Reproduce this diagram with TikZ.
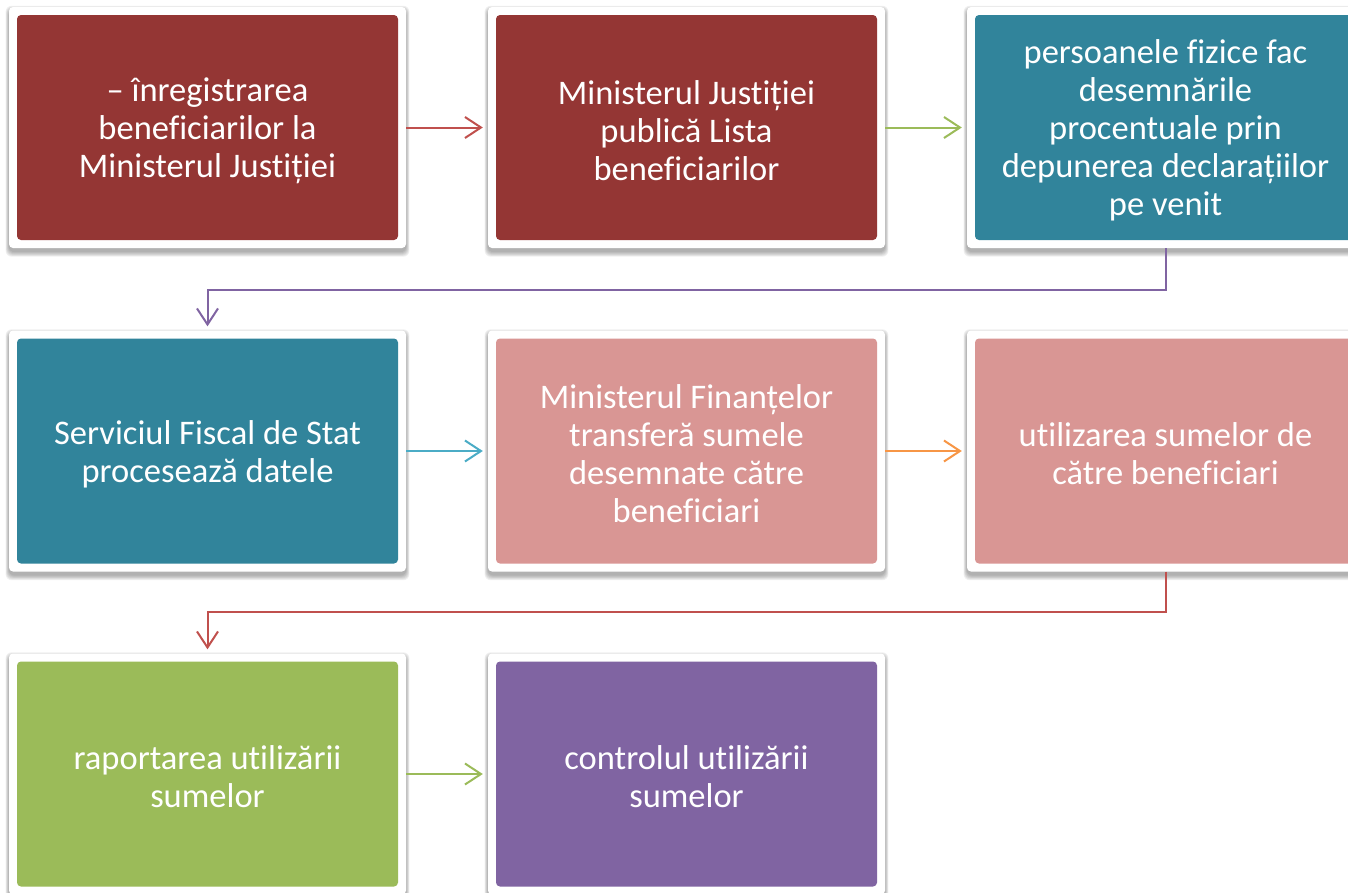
\documentclass[tikz,border=0pt]{standalone}
\usepackage{fontspec}
\setmainfont[Ligatures=NoCommon]{Carlito}
\usetikzlibrary{arrows.meta,backgrounds}
\definecolor{cDred}{HTML}{943634}
\definecolor{cTeal}{HTML}{31849B}
\definecolor{cPink}{HTML}{D99694}
\definecolor{cGreen}{HTML}{9BBB59}
\definecolor{cPurple}{HTML}{8064A2}
\definecolor{aRed}{HTML}{C0504D}
\definecolor{aBlue}{HTML}{4BACC6}
\definecolor{aOrange}{HTML}{F79646}
\tikzset{
  stepbox/.style={rectangle, rounded corners=4pt, fill=white, minimum width=397pt, minimum height=241pt,
    inner sep=0pt,
    path picture={\fill[#1] ([shift={(8pt,-8pt)}]path picture bounding box.north west) rectangle ([shift={(-8pt,8pt)}]path picture bounding box.south east);}},
  boxtext/.style={align=center, text=white, inner sep=0pt, font=\fontsize{34.5}{38}\selectfont},
  conn/.style={line width=2pt, -{Straight Barb[length=16pt,width=21pt,line width=2pt]}, shorten >=5pt},
  shadowpart/.style={fill=black, opacity=0.06, rounded corners=6pt}
}
\newcommand\stepnode[4]{%
  \node[stepbox=#2] (#1) at (#3) {};
  \node[boxtext] (#1t) at ([yshift=-3pt]#1.center) {#4};}
\begin{document}
\begin{tikzpicture}[x=1pt,y=-1pt]
\useasboundingbox (0,0) rectangle (1348,892);
\stepnode{a}{cDred}{207.5,127.5}{– înregistrarea\\beneficiarilor la\\Ministerul Justiției}
\stepnode{b}{cDred}{686.5,127.5}{Ministerul Justiției\\publică Lista\\beneficiarilor}
\stepnode{c}{cTeal}{1165.5,127.5}{persoanele fizice fac\\desemnările\\procentuale prin\\depunerea declarațiilor\\pe venit}
\stepnode{d}{cTeal}{207.5,451}{Serviciul Fiscal de Stat\\procesează datele}
\stepnode{e}{cPink}{686.5,451}{Ministerul Finanțelor\\transferă sumele\\desemnate către\\beneficiari}
\stepnode{f}{cPink}{1165.5,451}{utilizarea sumelor de\\către beneficiari}
\stepnode{g}{cGreen}{207.5,774}{raportarea utilizării\\sumelor}
\stepnode{h}{cPurple}{686.5,774}{controlul utilizării\\sumelor}
\begin{scope}[on background layer]
\foreach \n in {a,b,c,d,e,f,g,h}{
  \foreach \k in {0,1,2,3,4,5}{
    \fill[shadowpart] ([shift={(-0.2-0.6*\k,3-0.8*\k)}]\n.north west) rectangle ([shift={(0.2+0.6*\k,4+0.9*\k)}]\n.south east);
  }
}
\end{scope}
\draw[conn, aRed] (a) -- (b);
\draw[conn, cGreen] (b) -- (c);
\draw[conn, cPurple, shorten >=4pt] (c.south) -- ++(0,42) -| (d.north);
\draw[conn, aBlue] (d) -- (e);
\draw[conn, aOrange] (e) -- (f);
\draw[conn, aRed, shorten >=4pt] (f.south) -- ++(0,40) -| (g.north);
\draw[conn, cGreen] (g) -- (h);
\end{tikzpicture}
\end{document}
